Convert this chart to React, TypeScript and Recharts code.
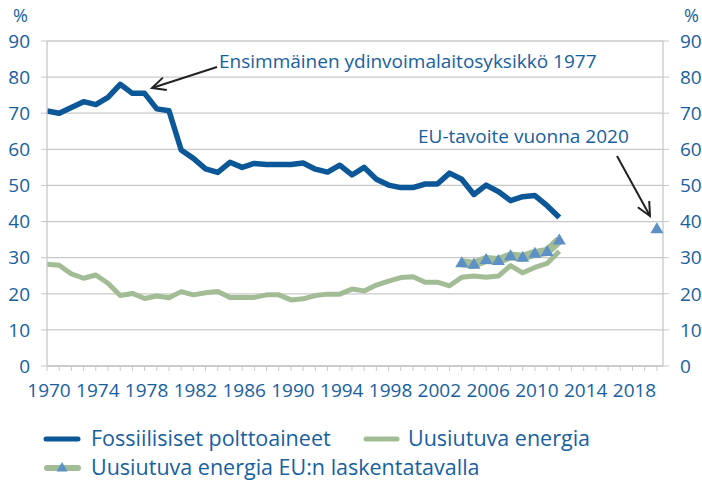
import { LineChart, Line, XAxis, YAxis, CartesianGrid, Legend } from "recharts"

const years = [
  1970, 1971, 1972, 1973, 1974, 1975, 1976, 1977, 1978, 1979,
  1980, 1981, 1982, 1983, 1984, 1985, 1986, 1987, 1988, 1989,
  1990, 1991, 1992, 1993, 1994, 1995, 1996, 1997, 1998, 1999,
  2000, 2001, 2002, 2003, 2004, 2005, 2006, 2007, 2008, 2009,
  2010, 2011, 2012, 2013, 2014, 2015, 2016, 2017, 2018, 2019, 2020,
]

// Fossiilisiset polttoaineet 1970–2012
const fossil = [
  70.6, 70.0, 71.6, 73.2, 72.4, 74.4, 78.0, 75.5, 75.5, 71.2,
  70.7, 59.8, 57.5, 54.6, 53.6, 56.4, 55.0, 56.1, 55.8, 55.8,
  55.8, 56.2, 54.5, 53.7, 55.6, 52.9, 55.0, 51.7, 50.1, 49.4,
  49.4, 50.4, 50.4, 53.4, 51.7, 47.5, 50.1, 48.3, 45.8, 46.9,
  47.2, 44.4, 41.1,
]

// Uusiutuva energia 1970–2012
const renewable = [
  28.2, 27.9, 25.5, 24.3, 25.2, 22.9, 19.5, 20.1, 18.7, 19.4,
  18.9, 20.6, 19.7, 20.3, 20.6, 19.0, 19.0, 19.0, 19.7, 19.7,
  18.3, 18.6, 19.5, 19.9, 19.9, 21.3, 20.8, 22.4, 23.5, 24.5,
  24.7, 23.2, 23.2, 22.2, 24.6, 24.9, 24.6, 24.9, 27.8, 25.8,
  27.3, 28.4, 31.8,
]

// Uusiutuva energia EU:n laskentatavalla + tavoite 2020
const euYears = [2004, 2005, 2006, 2007, 2008, 2009, 2010, 2011, 2012, 2020]
const euValues = [28.6, 28.2, 29.5, 29.2, 30.5, 30.1, 31.2, 31.7, 34.9, 38]

const yTicks = [0, 10, 20, 30, 40, 50, 60, 70, 80, 90]

const data = years.map((year, i) => {
  const e = euYears.indexOf(year)
  return {
    year,
    fossil: i < fossil.length ? fossil[i] : null,
    renewable: i < renewable.length ? renewable[i] : null,
    eu: e >= 0 ? euValues[e] : null,
  }
})

const FONT = "'Open Sans', sans-serif"
const TEXT = "#17609f"
const BLUE = "#0b5797"
const GREEN = "#a2bd96"
const TRI = "#5d90c5"
const GRID = "#c8c8c8"

const Triangle = (props: any) => {
  const { cx, cy, key } = props
  if (cx == null || cy == null) return <g key={key} />
  return (
    <polygon
      key={key}
      points={`${cx},${cy - 6.5} ${cx - 6.5},${cy + 4.5} ${cx + 6.5},${cy + 4.5}`}
      fill={TRI}
    />
  )
}

const XTick = (props: any) => {
  const { x, y, payload } = props
  if ((payload.value - 1970) % 4 !== 0) return <g />
  return (
    <text x={x + 2} y={y + 24} textAnchor="middle" fill={TEXT} fontSize={19} fontFamily={FONT}>
      {payload.value}
    </text>
  )
}

const LegendBox = () => (
  <svg width={702} height={80}>
    <line x1={46} y1={16} x2={78} y2={16} stroke={BLUE} strokeWidth={5} strokeLinecap="round" />
    <text x={91} y={23} fill={TEXT} fontSize={21.5} fontFamily={FONT}>Fossiilisiset polttoaineet</text>
    <line x1={366} y1={16} x2={397} y2={16} stroke={GREEN} strokeWidth={5} strokeLinecap="round" />
    <text x={408} y={23} fill={TEXT} fontSize={21.5} fontFamily={FONT}>Uusiutuva energia</text>
    <line x1={47} y1={45} x2={78} y2={45} stroke={GREEN} strokeWidth={6} strokeLinecap="round" />
    <polygon points="62,39 56.5,48.5 67.5,48.5" fill={TRI} />
    <text x={91} y={52} fill={TEXT} fontSize={21.5} fontFamily={FONT}>Uusiutuva energia EU:n laskentatavalla</text>
  </svg>
)

function arrowHead(x1: number, y1: number, x2: number, y2: number) {
  const a = Math.atan2(y2 - y1, x2 - x1)
  const len = 15
  const s = 0.45
  const p1 = [x2 - len * Math.cos(a - s), y2 - len * Math.sin(a - s)]
  const p2 = [x2 - len * Math.cos(a + s), y2 - len * Math.sin(a + s)]
  return `M${p1[0]},${p1[1]} L${x2},${y2} L${p2[0]},${p2[1]}`
}

export default function App() {
  return (
    <div style={{ position: "absolute", left: 0, top: 0, width: 702, height: 481, background: "#fff" }}>
      <LineChart width={702} height={481} data={data} margin={{ top: 41, right: 0, bottom: 85, left: 0 }}>
        <CartesianGrid yAxisId="left" vertical={false} stroke={GRID} strokeWidth={1.3} />
        <XAxis
          dataKey="year"
          type="number"
          domain={[1970, 2020.5]}
          ticks={years}
          interval={0}
          height={30}
          tickSize={5}
          tick={<XTick />}
          stroke={GRID}
          axisLine={{ stroke: GRID, strokeWidth: 1.3 }}
        />
        <YAxis
          yAxisId="left"
          domain={[0, 90]}
          ticks={yTicks}
          width={47}
          tickSize={6}
          tickMargin={11}
          stroke={GRID}
          axisLine={{ stroke: GRID, strokeWidth: 1.3 }}
          tick={{ fill: TEXT, fontSize: 19, fontFamily: FONT }}
        />
        <YAxis
          yAxisId="right"
          orientation="right"
          domain={[0, 90]}
          ticks={yTicks}
          width={39}
          tickSize={6}
          tickMargin={11}
          stroke={GRID}
          axisLine={{ stroke: GRID, strokeWidth: 1.3 }}
          tick={{ fill: TEXT, fontSize: 19, fontFamily: FONT }}
        />
        <Legend
          layout="horizontal"
          verticalAlign="middle"
          align="center"
          content={<LegendBox />}
          wrapperStyle={{ position: "absolute", left: 0, top: 423, width: 702, height: 58 }}
        />
        <Line
          yAxisId="left"
          dataKey="eu"
          name="Uusiutuva energia EU:n laskentatavalla"
          stroke={GREEN}
          strokeWidth={9}
          strokeLinejoin="round"
          dot={Triangle}
          activeDot={false}
          isAnimationActive={false}
        />
        <Line
          yAxisId="right"
          dataKey="renewable"
          name="Uusiutuva energia"
          stroke={GREEN}
          strokeWidth={5}
          strokeLinejoin="round"
          dot={false}
          activeDot={false}
          isAnimationActive={false}
        />
        <Line
          yAxisId="left"
          dataKey="fossil"
          name="Fossiilisiset polttoaineet"
          stroke={BLUE}
          strokeWidth={5.5}
          strokeLinejoin="round"
          dot={false}
          activeDot={false}
          isAnimationActive={false}
        />
      </LineChart>
      <svg
        width={702}
        height={481}
        style={{ position: "absolute", left: 0, top: 0, pointerEvents: "none" }}
      >
        <text x={13} y={22} fill={TEXT} fontSize={18} fontFamily={FONT}>%</text>
        <text x={684} y={22} fill={TEXT} fontSize={18} fontFamily={FONT}>%</text>
        <text x={219} y={68} fill={TEXT} fontSize={19} fontFamily={FONT}>
          Ensimmäinen ydinvoimalaitosyksikkö 1977
        </text>
        <line x1={217} y1={67} x2={152} y2={88} stroke="#222" strokeWidth={2} />
        <path d={arrowHead(217, 67, 152, 88)} stroke="#222" strokeWidth={2} fill="none" />
        <text x={418} y={143} fill={TEXT} fontSize={19} fontFamily={FONT}>
          EU-tavoite vuonna 2020
        </text>
        <line x1={617} y1={156} x2={650} y2={216} stroke="#222" strokeWidth={2} />
        <path d={arrowHead(617, 156, 650, 216)} stroke="#222" strokeWidth={2} fill="none" />
      </svg>
    </div>
  )
}
